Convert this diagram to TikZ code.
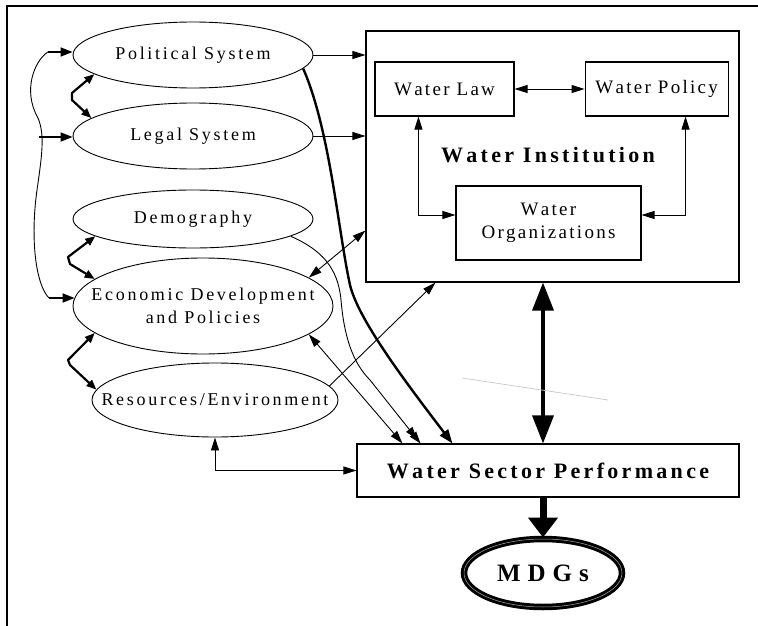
\documentclass[tikz,border=0pt]{standalone}
\usepackage{fontspec}
\setmainfont{Liberation Serif}[LetterSpace=12,Kerning=Off]
\usetikzlibrary{arrows.meta,positioning,calc,shapes.geometric}
\definecolor{Smoke}{HTML}{C8C8C8}
\tikzset{
  ovalnode/.style={ellipse, draw, line width=0.9pt, inner xsep=-40pt, inner ysep=0pt,
    align=center, font=\fontsize{18}{23}\selectfont\addfontfeature{LetterSpace=15},
    minimum width=240pt, minimum height=66pt},
  wbox/.style={draw, line width=1.1pt, inner sep=2pt, align=center,
    font=\fontsize{19}{23}\selectfont},
  goalnode/.style={ellipse, draw, line width=3pt, double=gray!70, double distance=0.5pt,
    inner sep=0pt, minimum width=158pt, minimum height=68pt,
    font=\fontsize{25}{30}\selectfont\bfseries\addfontfeature{LetterSpace=28}},
  thinarr/.style={-{Triangle[length=13pt,width=8pt]}, line width=0.9pt},
  twoarr/.style={{Triangle[length=13pt,width=8pt]}-{Triangle[length=13pt,width=8pt]}, line width=0.9pt},
  linkarr/.style={{Triangle[length=10pt,width=8pt]}-{Triangle[length=10pt,width=8pt]},
    line width=2.2pt, line join=round},
  busarr/.style={-{Triangle[length=12pt,width=9pt]}, line width=1.8pt},
  fatarr/.style={-{Triangle[length=14pt,width=10pt]}, line width=2.4pt},
  bigarr/.style={{Triangle[length=28pt,width=21pt]}-{Triangle[length=28pt,width=21pt]}, line width=3.5pt},
  goalarr/.style={-{Triangle[length=20pt,width=29pt]}, line width=7pt},
}

\begin{document}
\begin{tikzpicture}[x=1pt, y=-1pt]
  \useasboundingbox (0,0) rectangle (758,626);
  \draw[line width=1.2pt] (7,626) -- (7,6) -- (758,6);

  % outside factors
  \node[ovalnode] (pol) at (193,55) {Political System};
  \node[ovalnode] (leg) at (193,136) {Legal System};
  \node[ovalnode, minimum height=58pt] (dem) at (193,219) {Demography};
  \node[ovalnode, minimum width=260pt, minimum height=96pt] (eco) at (203,306)
    {Economic Development\\and Policies};
  \node[ovalnode, minimum width=246pt, minimum height=74pt] (res) at (215,400)
    {Resources/Environment};

  % the institution
  \node[wbox, minimum width=373pt, minimum height=251pt] (wi) at (552.5,156.5) {};
  \node[wbox, minimum width=139pt, minimum height=54pt] (wlaw) at (444.5,89) {Water Law};
  \node[wbox, minimum width=143pt, minimum height=54pt, right=70pt of wlaw] (wpol) {Water Policy};
  \node[wbox, minimum width=185pt, minimum height=74pt] (worg) at (548.5,223)
    {Water\\Organizations};
  \node[font=\fontsize{22}{26}\selectfont\bfseries\addfontfeature{LetterSpace=15}] (wilabel)
    at (548,155) {Water Institution};

  \node[wbox, minimum width=382pt, minimum height=53pt,
    font=\fontsize{22}{26}\selectfont\bfseries\addfontfeature{LetterSpace=15}] (wsp)
    at (548,470.5) {Water Sector Performance};
  \node[goalnode] (mdg) at (543,573) {MDGs};

  \draw[twoarr] (wlaw) -- (wpol);
  \draw[twoarr] ($(wlaw.south west)+(44,0)$) |- ($(worg.west)+(0,-8)$);
  \draw[twoarr] ($(wpol.south west)+(101,0)$) |- ($(worg.east)+(0,-8)$);

  % left loop
  \coordinate (busP) at (48,52);
  \coordinate (busL) at (39,137);
  \coordinate (busE) at (49,298);
  \draw[line width=0.9pt] (busP) .. controls (35,60) and (22,90) .. (38,118)
    .. controls (45,135) and (42,155) .. (37,190)
    .. controls (30,240) and (36,285) .. (busE);
  \draw[busarr] (busP) -- (busP -| pol.west);
  \draw[busarr] (busL) -- (busL -| leg.west);
  \draw[busarr] (busE) -- ($(eco.west)+(2,-8)$);

  \draw[linkarr] (pol.191) -- (72,93) -- (72,100) -- (leg.170);
  \draw[linkarr] (dem.190) -- (68,257) -- (70,264) -- (eco.166);
  \draw[linkarr] (eco.194) -- (68,360) -- (70,365) -- (res.175);

  % into the institution
  \draw[thinarr] (pol.east) -- (pol.east -| wi.west);
  \draw[thinarr] (leg.east) -- (leg.east -| wi.west);
  \draw[twoarr] (eco.15) -- ($(wi.south west)+(0,-52)$);
  \draw[thinarr] (res.7) -- ($(wi.south west)+(70,0)$);

  % into performance
  \draw[fatarr] (pol.-7) .. controls (330,130) and (338,230) .. (350,285)
    .. controls (358,318) and (400,375) .. ($(wsp.north west)+(96,0)$);
  \draw[line width=0.9pt, -{Triangle[length=12pt,width=8pt,sep=-6pt]Triangle[length=12pt,width=8pt]}]
    (dem.-10) .. controls (322,250) and (338,268) .. (341,300)
    .. controls (344,335) and (352,362) .. (370,380) -- ($(wsp.north west)+(64,0)$);
  \draw[twoarr] (eco.-15) -- ($(wsp.north west)+(46,0)$);
  \draw[twoarr] (res.south) |- (wsp.west);

  \draw[bigarr] (mdg |- wi.south) -- (mdg |- wsp.north);
  \draw[goalarr] (mdg |- wsp.south) -- (mdg.north);

  \draw[Smoke, line width=0.7pt] (462,378) -- (608,400);
\end{tikzpicture}
\end{document}
